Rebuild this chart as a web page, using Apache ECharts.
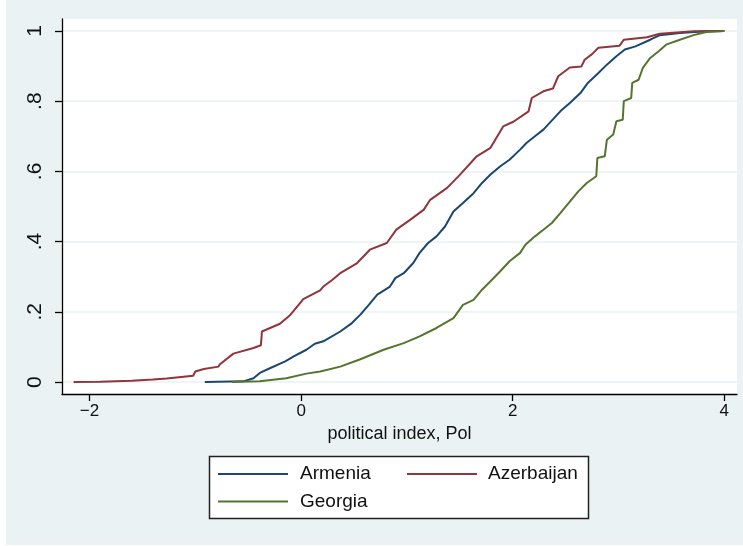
<!DOCTYPE html>
<html>
<head>
<meta charset="utf-8">
<script src="https://cdn.jsdelivr.net/npm/echarts@6/dist/echarts.min.js"></script>
<style>
  html, body { margin: 0; padding: 0; background: #fff; }
  #chart { width: 743px; height: 546px; }
</style>
</head>
<body>
<div id="chart"></div>
<script>
var armX = [-0.91, -0.545, -0.45, -0.39, -0.29, -0.15, -0.07, 0.05, 0.13, 0.21, 0.37, 0.48, 0.56, 0.64, 0.72, 0.84, 0.89, 0.97, 1.06, 1.12, 1.20, 1.28, 1.36, 1.44, 1.53, 1.63, 1.71, 1.79, 1.88, 1.97, 2.07, 2.13, 2.21, 2.29, 2.38, 2.45, 2.54, 2.64, 2.71, 2.81, 2.89, 2.98, 3.06, 3.16, 3.30, 3.39, 3.58, 3.83, 4.0];
var armY = [0, 0.002, 0.011, 0.026, 0.04, 0.059, 0.073, 0.092, 0.109, 0.116, 0.144, 0.168, 0.192, 0.22, 0.249, 0.272, 0.296, 0.31, 0.339, 0.368, 0.396, 0.415, 0.443, 0.486, 0.51, 0.538, 0.567, 0.591, 0.614, 0.633, 0.662, 0.681, 0.70, 0.719, 0.748, 0.771, 0.795, 0.823, 0.852, 0.88, 0.904, 0.928, 0.947, 0.956, 0.975, 0.988, 0.994, 0.999, 1.0];

var azeX = [-2.15, -1.9, -1.6, -1.4, -1.27, -1.02, -1.0, -0.92, -0.78, -0.77, -0.64, -0.45, -0.38, -0.37, -0.2, -0.10, -0.01, 0.02, 0.18, 0.21, 0.29, 0.37, 0.53, 0.65, 0.81, 0.90, 1.03, 1.16, 1.22, 1.38, 1.50, 1.66, 1.79, 1.91, 2.01, 2.15, 2.18, 2.29, 2.38, 2.43, 2.54, 2.65, 2.68, 2.75, 2.81, 3.01, 3.05, 3.27, 3.39, 3.71, 4.0];
var azeY = [0, 0.001, 0.004, 0.007, 0.01, 0.018, 0.03, 0.037, 0.044, 0.05, 0.081, 0.097, 0.105, 0.144, 0.166, 0.192, 0.225, 0.236, 0.261, 0.272, 0.29, 0.31, 0.339, 0.377, 0.396, 0.434, 0.462, 0.491, 0.519, 0.553, 0.59, 0.643, 0.667, 0.728, 0.742, 0.771, 0.809, 0.828, 0.836, 0.871, 0.896, 0.899, 0.918, 0.934, 0.952, 0.958, 0.975, 0.982, 0.992, 0.999, 1.0];

var geoX = [-0.655, -0.39, -0.14, 0.05, 0.18, 0.37, 0.56, 0.78, 0.97, 1.12, 1.28, 1.44, 1.53, 1.63, 1.71, 1.79, 1.88, 1.97, 2.07, 2.12, 2.21, 2.29, 2.37, 2.45, 2.54, 2.62, 2.70, 2.79, 2.80, 2.87, 2.89, 2.95, 2.98, 3.04, 3.05, 3.12, 3.13, 3.19, 3.23, 3.30, 3.38, 3.45, 3.58, 3.71, 3.83, 4.0];
var geoY = [0, 0.002, 0.011, 0.024, 0.03, 0.044, 0.065, 0.092, 0.111, 0.13, 0.154, 0.182, 0.22, 0.234, 0.263, 0.287, 0.315, 0.344, 0.368, 0.391, 0.415, 0.434, 0.453, 0.481, 0.514, 0.543, 0.567, 0.586, 0.638, 0.643, 0.69, 0.705, 0.743, 0.747, 0.80, 0.809, 0.852, 0.861, 0.895, 0.923, 0.942, 0.961, 0.975, 0.988, 0.997, 1.0];

var xTicks = [-2, 0, 2, 4];
var yTicks = [0, 0.2, 0.4, 0.6, 0.8, 1];

function pairs(xs, ys) {
  return xs.map(function (x, i) { return [x, ys[i]]; });
}

var font = '"Liberation Sans", Arial, Helvetica, sans-serif';

var option = {
  backgroundColor: '#eaf2f3',
  animation: false,
  textStyle: { fontFamily: font },
  graphic: [
    { type: 'rect', z: 0, shape: { x: 0, y: 0, width: 6, height: 546 }, style: { fill: '#fff' } },
    { type: 'rect', z: 0, shape: { x: 0, y: 545, width: 743, height: 1 }, style: { fill: '#fff' } },
    { type: 'rect', z: 1, shape: { x: 209.5, y: 456.5, width: 379, height: 62 },
      style: { fill: '#fff', stroke: '#222', lineWidth: 1.5 } }
  ],
  grid: {
    left: 62, right: 6, top: 19, bottom: 152,
    show: true, backgroundColor: '#fff', borderWidth: 0
  },
  xAxis: {
    type: 'value',
    min: -2.26, max: 4.12,
    name: 'political index, Pol',
    nameLocation: 'middle',
    nameGap: 31,
    nameTextStyle: { fontSize: 18, color: '#111', fontFamily: font },
    axisLine: { onZero: false, lineStyle: { color: '#000', width: 1.3 } },
    axisTick: { customValues: xTicks, length: 7, lineStyle: { color: '#000', width: 1.3 } },
    axisLabel: {
      customValues: xTicks, fontSize: 17, color: '#111', margin: 9,
      formatter: function (v) { return String(v).replace('-', '\u2212'); }
    },
    splitLine: { show: false }
  },
  yAxis: {
    type: 'value',
    min: -0.034, max: 1.034,
    axisLine: { show: true, onZero: false, lineStyle: { color: '#000', width: 1.3 } },
    axisTick: { show: true, customValues: yTicks, length: 7, lineStyle: { color: '#000', width: 1.3 } },
    axisLabel: {
      customValues: yTicks, color: '#111', rotate: 90, margin: 16,
      fontSize: 21, fontFamily: font,
      formatter: function (v) {
        if (v === 0 || v === 1) return String(v);
        return String(Math.round(v * 10) / 10).replace('0.', '.');
      }
    },
    splitLine: { show: true, lineStyle: { color: '#eaf2f3', width: 1.5 } }
  },
  legend: [
    {
      data: ['Armenia', 'Georgia'],
      orient: 'vertical',
      left: 218, top: 464,
      padding: 0,
      itemGap: 7.5,
      itemWidth: 70, itemHeight: 2,
      icon: 'rect',
      z: 5,
      textStyle: { fontSize: 19, color: '#111', lineHeight: 20, padding: [0, 0, 0, 7] }
    },
    {
      data: ['Azerbaijan'],
      orient: 'vertical',
      left: 407, top: 464,
      padding: 0,
      itemWidth: 70, itemHeight: 2,
      icon: 'rect',
      z: 5,
      textStyle: { fontSize: 19, color: '#111', lineHeight: 20, padding: [0, 0, 0, 6] }
    }
  ],
  series: [
    {
      name: 'Armenia', type: 'line', showSymbol: false,
      data: pairs(armX, armY), color: '#1a476f',
      lineStyle: { width: 2, color: '#1a476f' }
    },
    {
      name: 'Azerbaijan', type: 'line', showSymbol: false,
      data: pairs(azeX, azeY), color: '#90353b',
      lineStyle: { width: 2, color: '#90353b' }
    },
    {
      name: 'Georgia', type: 'line', showSymbol: false,
      data: pairs(geoX, geoY), color: '#55752f',
      lineStyle: { width: 2, color: '#55752f' }
    }
  ]
};

var myChart = echarts.init(document.getElementById('chart'));
myChart.setOption(option);
</script>
</body>
</html>
